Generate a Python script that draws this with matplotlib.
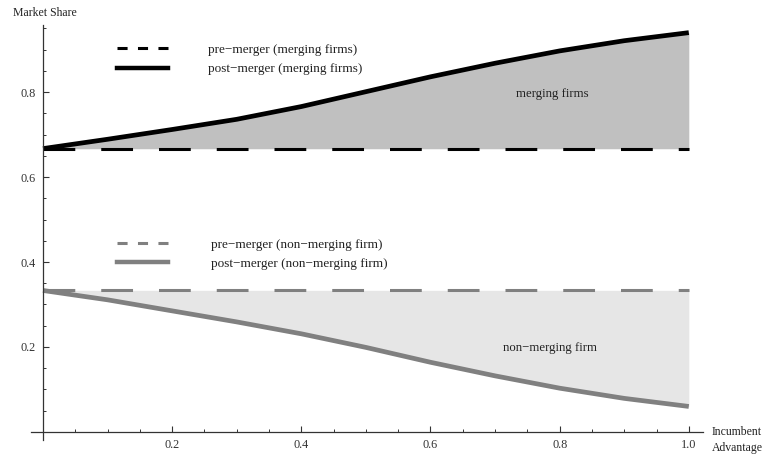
import numpy as np
import matplotlib.pyplot as plt
from matplotlib.lines import Line2D

plt.rcParams['font.family'] = ['Liberation Serif', 'DejaVu Serif']

# datos
ventaja = np.array([0.0, 0.1, 0.2, 0.3, 0.4, 0.5, 0.6, 0.7, 0.8, 0.9, 1.0])
post_fusion = np.array([0.667, 0.689, 0.712, 0.736, 0.766, 0.801,
                        0.836, 0.868, 0.897, 0.921, 0.940])
post_resto = np.array([0.333, 0.311, 0.285, 0.259, 0.231, 0.199,
                       0.164, 0.132, 0.103, 0.079, 0.060])
pre_fusion = 2.0 / 3.0
pre_resto = 1.0 / 3.0

etiquetas = ['pre\u2212merger (merging firms)', 'post\u2212merger (merging firms)',
             'pre\u2212merger (non\u2212merging firm)', 'post\u2212merger (non\u2212merging firm)']

W, H = 765, 457
fig = plt.figure(figsize=(W / 100, H / 100), dpi=100)
ax = fig.add_axes([31 / W, 1 - 440 / H, 672 / W, 415 / H])
ax.set_xlim(-0.0186, 1.022)
ax.set_ylim(-0.019, 0.958)

# areas sombreadas
ax.fill_between(ventaja, pre_fusion, post_fusion, color='#c0c0c0', lw=0)
ax.fill_between(ventaja, post_resto, pre_resto, color='#e6e6e6', lw=0)

# lineas
xx = ventaja[[0, -1]]
ax.plot(xx, [pre_fusion] * 2, color='black', lw=2.2, ls=(0, (10.4, 8.5)))
ax.plot(xx, [pre_resto] * 2, color='#808080', lw=2.2, ls=(0, (10.4, 8.5)))
ax.plot(ventaja, post_fusion, color='black', lw=3.4, solid_capstyle='butt')
ax.plot(ventaja, post_resto, color='#808080', lw=3.4, solid_capstyle='butt')

ax.text(0.788, 0.795, 'merging firms', ha='center', va='center', fontsize=9.2, color='#222222')
ax.text(0.785, 0.198, 'non\u2212merging firm', ha='center', va='center', fontsize=9.2, color='#222222')

# ejes estilo Mathematica
for s in ['top', 'right']:
    ax.spines[s].set_visible(False)
ax.spines['left'].set_position(('data', 0))
ax.spines['bottom'].set_position(('data', 0))
for s in ['left', 'bottom']:
    ax.spines[s].set_color('#333333')
    ax.spines[s].set_linewidth(0.9)

ax.set_xticks([0.2, 0.4, 0.6, 0.8, 1.0])
ax.set_xticklabels(['0.2', '0.4', '0.6', '0.8', '1.0'])
ax.set_yticks([0.2, 0.4, 0.6, 0.8])
ax.set_yticklabels(['0.2', '0.4', '0.6', '0.8'])
ax.set_xticks(np.arange(0.05, 1.01, 0.05), minor=True)
ax.set_yticks(np.arange(0.05, 0.96, 0.05), minor=True)
ax.tick_params(which='major', direction='in', length=4, width=0.8, color='#333333',
               labelsize=8.8, labelcolor='#333333', pad=5)
ax.tick_params(which='minor', direction='in', length=2.5, width=0.7, color='#333333')

fig.text(13 / W, 1 - 13 / H, 'Market Share', fontsize=8.5, color='#222222', va='center', ha='left')
fig.text(712 / W, 1 - 440 / H, 'Incumbent\nAdvantage', fontsize=8.5, color='#222222',
         va='center', ha='left', linespacing=1.45)

# leyendas
h1 = [Line2D([], [], color='black', lw=2.2, ls=(0, (3.3, 3.4))),
      Line2D([], [], color='black', lw=3.2)]
h2 = [Line2D([], [], color='#808080', lw=2.2, ls=(0, (3.3, 3.4))),
      Line2D([], [], color='#808080', lw=3.2)]
leg1 = fig.legend(h1, etiquetas[:2], loc='center left', bbox_to_anchor=(117 / W, 1 - 59.5 / H),
                  frameon=False, fontsize=9.5, handlelength=3.86, handletextpad=3.03,
                  labelspacing=0.57, borderpad=0, borderaxespad=0)
leg2 = fig.legend(h2, etiquetas[2:], loc='center left', bbox_to_anchor=(117 / W, 1 - 254 / H),
                  frameon=False, fontsize=9.5, handlelength=3.86, handletextpad=3.26,
                  labelspacing=0.5, borderpad=0, borderaxespad=0)
for leg in (leg1, leg2):
    for t in leg.get_texts():
        t.set_color('#222222')

fig.savefig('out.png', dpi=100)
